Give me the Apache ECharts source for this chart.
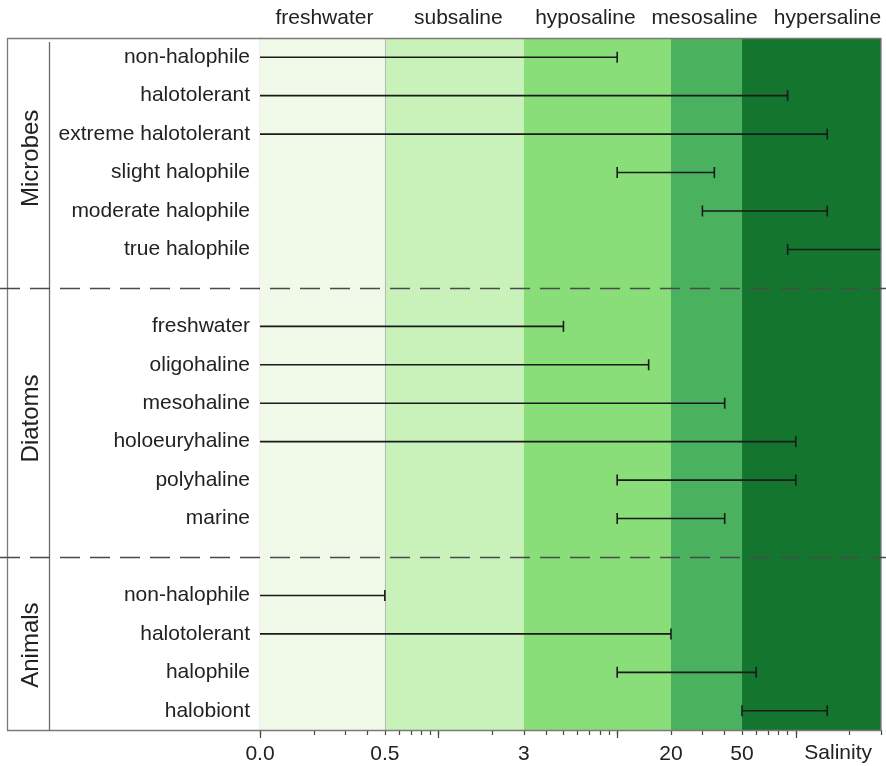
<!DOCTYPE html>
<html>
<head>
<meta charset="utf-8">
<script src="https://cdn.jsdelivr.net/npm/echarts@6/dist/echarts.min.js"></script>
<style>
  html, body { margin: 0; padding: 0; background: #ffffff; }
  #chart { width: 886px; height: 766px; }
</style>
</head>
<body>
<div id="chart"></div>
<script>
// Salinity tolerance ranges of organism classes
const groupNames = ['Microbes', 'Diatoms', 'Animals'];

const microbeClasses = ['non-halophile', 'halotolerant', 'extreme halotolerant', 'slight halophile', 'moderate halophile', 'true halophile'];
const microbeLow  = [0.1, 0.1, 0.1, 10, 30, 90];
const microbeHigh = [10, 90, 150, 35, 150, 400];

const diatomClasses = ['freshwater', 'oligohaline', 'mesohaline', 'holoeuryhaline', 'polyhaline', 'marine'];
const diatomLow  = [0.1, 0.1, 0.1, 0.1, 10, 10];
const diatomHigh = [5, 15, 40, 100, 100, 40];

const animalClasses = ['non-halophile', 'halotolerant', 'halophile', 'halobiont'];
const animalLow  = [0.1, 0.1, 10, 50];
const animalHigh = [0.5, 20, 60, 150];

// Salinity zones (lower bound, upper bound, name)
const zoneNames = ['freshwater', 'subsaline', 'hyposaline', 'mesosaline', 'hypersaline'];
const zoneFrom  = [0.1, 0.5, 3, 20, 50];
const zoneTo    = [0.5, 3, 20, 50, 300];
const zoneColors = ['#f1f9e9', '#c9f2bb', '#89de79', '#4ab15e', '#14752f'];

// Axis tick labels
const tickValues = [0.1, 0.5, 3, 20, 50];
const tickTexts  = ['0.0', '0.5', '3', '20', '50'];
const axisTitle = 'Salinity';

const minorTickValues = [0.1,0.2,0.3,0.4,0.5,0.6,0.7,0.8,0.9,1,2,3,4,5,6,7,8,9,10,20,30,40,50,60,70,80,90,100,200,300];
const majorTickValues = [0.1, 1, 10, 100];

// Layout tweaks: horizontal nudges for zone titles, vertical nudges for group titles
const zoneTitleShift = [2, 4, -12, -2, 16];
const groupTitleShift = [5, -4, -8];

// Build the category list, inserting a blank slot between groups
const groups = [
  { classes: microbeClasses, low: microbeLow, high: microbeHigh },
  { classes: diatomClasses, low: diatomLow, high: diatomHigh },
  { classes: animalClasses, low: animalLow, high: animalHigh }
];
const categories = [];
const rangeData = [];
const groupSpans = [];
const gapIndices = [];
groups.forEach((g, gi) => {
  if (gi > 0) {
    gapIndices.push(categories.length);
    categories.push(' '.repeat(gi));
  }
  const start = categories.length;
  g.classes.forEach((c, i) => {
    rangeData.push([g.low[i], g.high[i], categories.length]);
    categories.push(c);
  });
  groupSpans.push([start, categories.length - 1]);
});

const FONT = '"Liberation Sans", Arial, sans-serif';
const TEXT = '#222222';
const FS = 21;

const chart = echarts.init(document.getElementById('chart'), null, { renderer: 'canvas' });

const GRID = { left: 260, right: 5, top: 38, bottom: 36 };

function tickText(v) {
  let best = 0, bd = Infinity;
  tickValues.forEach((t, i) => {
    const d = Math.abs(Math.log10(v) - Math.log10(t));
    if (d < bd) { bd = d; best = i; }
  });
  return bd < 1e-3 ? tickTexts[best] : '';
}

const option = {
  backgroundColor: '#ffffff',
  animation: false,
  grid: Object.assign({ containLabel: false }, GRID),
  xAxis: [
    {
      type: 'log', logBase: 10, min: 0.1, max: 300,
      axisLine: { show: true, lineStyle: { color: '#777777', width: 1.2 } },
      axisTick: { show: true, length: 5, customValues: minorTickValues, lineStyle: { color: '#444444', width: 1.2 } },
      axisLabel: {
        show: true, customValues: tickValues, margin: 14,
        formatter: v => tickText(v),
        color: TEXT, fontSize: FS, fontFamily: FONT
      },
      splitLine: { show: false },
      minorTick: { show: false }
    },
    {
      type: 'log', logBase: 10, min: 0.1, max: 300, position: 'bottom',
      axisLine: { show: false },
      axisTick: { show: true, length: 8, customValues: majorTickValues, lineStyle: { color: '#444444', width: 1.2 } },
      axisLabel: { show: false },
      splitLine: { show: false }
    }
  ],
  yAxis: {
    type: 'category', data: categories, inverse: true,
    axisLine: { show: true, lineStyle: { color: '#666666', width: 1.2 } },
    axisTick: { show: false },
    axisLabel: { color: TEXT, fontSize: FS, fontFamily: FONT, margin: 10 },
    splitLine: { show: false }
  },
  series: [
    {
      // salinity zone backgrounds
      type: 'custom',
      xAxisIndex: 0,
      data: [],
      renderItem: () => null,
      markArea: {
        silent: true,
        data: zoneNames.map((n, i) => [
          {
            name: n, xAxis: zoneFrom[i],
            itemStyle: { color: zoneColors[i] },
            label: {
              show: true, position: 'top', distance: 9, offset: [zoneTitleShift[i], 0],
              color: TEXT, fontSize: FS, fontFamily: FONT
            }
          },
          { xAxis: zoneTo[i] }
        ])
      },
      markLine: {
        silent: true, symbol: 'none',
        label: { show: false },
        lineStyle: { color: '#b8b8b8', type: 'solid', width: 1 },
        data: [{ xAxis: zoneFrom[1] }]
      },
      z: 1
    },
    {
      // tolerance ranges drawn as capped bars
      type: 'custom',
      xAxisIndex: 0,
      data: rangeData,
      encode: { x: [0, 1], y: 2 },
      z: 5,
      renderItem: function (params, api) {
        const cs = params.coordSys;
        const y = api.coord([api.value(0), api.value(2)])[1];
        const x0 = api.coord([api.value(0), api.value(2)])[0];
        const x1raw = api.coord([api.value(1), api.value(2)])[0];
        const xMax = cs.x + cs.width;
        const x1 = Math.min(x1raw, xMax);
        const cap = 5.5;
        const style = { stroke: '#1a1a1a', lineWidth: 1.6 };
        const children = [
          { type: 'line', shape: { x1: x0, y1: y, x2: x1, y2: y }, style: style }
        ];
        // caps only where the range ends inside the plot
        if (x0 > cs.x + 1) {
          children.push({ type: 'line', shape: { x1: x0, y1: y - cap, x2: x0, y2: y + cap }, style: style });
        }
        if (x1raw <= xMax + 0.5) {
          children.push({ type: 'line', shape: { x1: x1, y1: y - cap, x2: x1, y2: y + cap }, style: style });
        }
        return { type: 'group', children: children };
      }
    }
  ]
};

chart.setOption(option);

// Frame, group brackets, dashed separators and group titles
function buildDecorations() {
  const W = chart.getWidth(), H = chart.getHeight();
  const top = GRID.top, bottom = H - GRID.bottom, right = W - GRID.right;
  const frameLeft = 7.5, dividerX = 49.5;
  const els = [];
  els.push({
    type: 'rect', z: 20, silent: true,
    shape: { x: frameLeft, y: top + 0.5, width: right - frameLeft, height: bottom - top },
    style: { fill: null, stroke: '#7a7a7a', lineWidth: 1.3 }
  });
  els.push({
    type: 'line', z: 20, silent: true,
    shape: { x1: dividerX, y1: top + 4, x2: dividerX, y2: bottom + 1 },
    style: { stroke: '#6a6a6a', lineWidth: 1.3 }
  });
  gapIndices.forEach(gi => {
    const y = Math.round(chart.convertToPixel({ yAxisIndex: 0 }, gi)) + 0.5;
    els.push({
      type: 'line', z: 20, silent: true,
      shape: { x1: 0, y1: y, x2: W, y2: y },
      style: { stroke: '#4a4a4a', lineWidth: 1.3, lineDash: [20, 10] }
    });
  });
  groupSpans.forEach((span, i) => {
    const ya = chart.convertToPixel({ yAxisIndex: 0 }, span[0]);
    const yb = chart.convertToPixel({ yAxisIndex: 0 }, span[1]);
    els.push({
      type: 'text', z: 20, silent: true,
      x: 31, y: (ya + yb) / 2 + groupTitleShift[i], rotation: Math.PI / 2,
      style: { text: groupNames[i], fill: TEXT, font: '24px ' + FONT, align: 'center', verticalAlign: 'middle' }
    });
  });
  els.push({
    type: 'text', z: 20, silent: true,
    x: right - 9, y: bottom + 23,
    style: { text: axisTitle, fill: TEXT, font: FS + 'px ' + FONT, align: 'right', verticalAlign: 'middle' }
  });
  chart.setOption({ graphic: { elements: els } });
}
buildDecorations();
</script>
</body>
</html>
